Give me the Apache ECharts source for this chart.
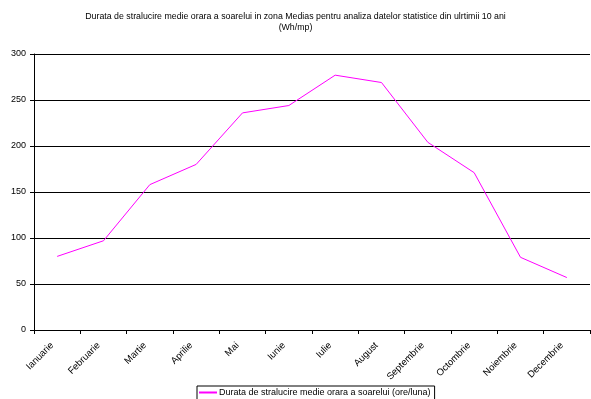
<!DOCTYPE html>
<html>
<head>
<meta charset="utf-8">
<script src="https://cdn.jsdelivr.net/npm/echarts@6/dist/echarts.min.js"></script>
<style>html,body{margin:0;padding:0;background:#fff}#c{width:591px;height:399px}</style>
</head>
<body>
<div id="c"></div>
<script>
var titleText = 'Durata de stralucire medie orara a soarelui in zona Medias pentru analiza datelor statistice din ulrtimii 10 ani\n(Wh/mp)';
var seriesName = 'Durata de stralucire medie orara a soarelui (ore/luna)';
var months = ['Ianuarie','Februarie','Martie','Aprilie','Mai','Iunie','Iulie','August','Septembrie','Octombrie','Noiembrie','Decembrie'];
var values = [80, 97, 158, 180, 236, 244, 277, 269, 204, 171, 79, 57];
var yTicks = [0, 50, 100, 150, 200, 250, 300];

var chart = echarts.init(document.getElementById('c'), null, {renderer: 'canvas'});
var font = 'Liberation Sans, Arial, sans-serif';
chart.setOption({
  animation: false,
  backgroundColor: '#fff',
  title: {
    text: titleText,
    left: 'center',
    top: 6,
    padding: [5, 0, 5, 16],
    textStyle: {fontFamily: font, fontSize: 8.8, fontWeight: 'normal', color: '#000', lineHeight: 11}
  },
  legend: {
    data: [seriesName],
    left: 197,
    top: 386,
    padding: [2, 4, 4, 2],
    borderColor: '#000',
    borderWidth: 1,
    itemWidth: 18,
    itemHeight: 2,
    itemGap: 0,
    icon: 'rect',
    textStyle: {fontFamily: font, fontSize: 9, color: '#000', padding: [0,0,0,-3]}
  },
  grid: {left: 34, right: 1, top: 54, bottom: 69},
  xAxis: {
    type: 'category',
    data: months,
    boundaryGap: true,
    axisLine: {lineStyle: {color: '#000', width: 1}},
    axisTick: {show: true, length: 4, inside: false, lineStyle: {color: '#000'}},
    axisLabel: {rotate: 45, fontFamily: font, fontSize: 9.5, color: '#000', margin: 9, padding: [0, 7, 0, 0], interval: 0},
    splitLine: {show: false}
  },
  yAxis: {
    type: 'value',
    min: yTicks[0],
    max: yTicks[yTicks.length - 1],
    interval: 50,
    axisLine: {show: true, lineStyle: {color: '#000', width: 1}},
    axisTick: {show: true, length: 4, lineStyle: {color: '#000'}},
    axisLabel: {fontFamily: font, fontSize: 9, color: '#000', margin: 8},
    splitLine: {show: true, lineStyle: {color: '#000', width: 1}}
  },
  series: [{
    name: seriesName,
    type: 'line',
    data: values,
    symbol: 'none',
    lineStyle: {color: '#FF00FF', width: 1},
    itemStyle: {color: '#FF00FF'}
  }]
});
</script>
</body>
</html>
